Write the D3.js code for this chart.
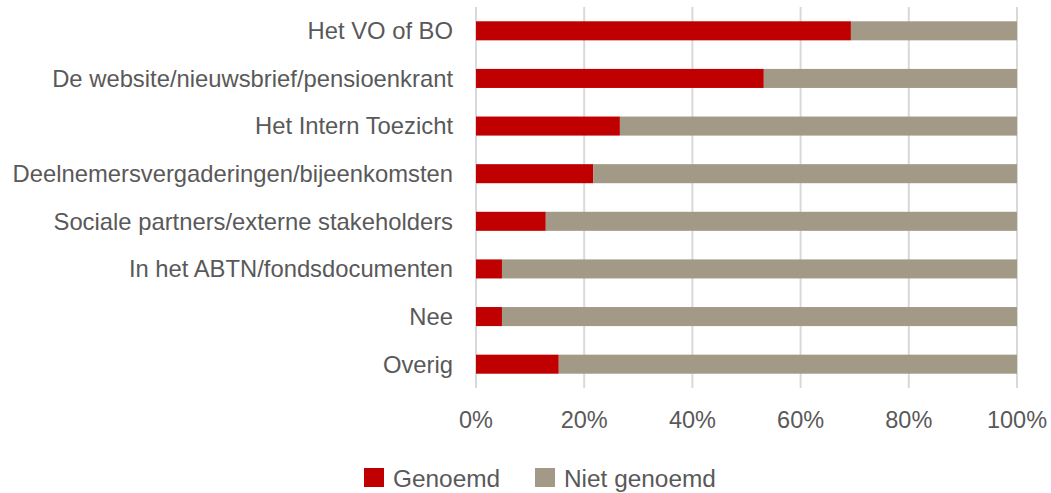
<!DOCTYPE html>
<html>
<head>
<meta charset="utf-8">
<script src="https://cdn.jsdelivr.net/npm/d3@7.9.0/dist/d3.min.js"></script>
<style>
  body { margin: 0; background: #fff; }
  svg { display: block; font-family: "Liberation Sans", Arial, sans-serif; }
</style>
</head>
<body>
<svg id="chart" width="1051" height="493"></svg>
<script>
// --- DATA ---
const categories = [
  "Het VO of BO",
  "De website/nieuwsbrief/pensioenkrant",
  "Het Intern Toezicht",
  "Deelnemersvergaderingen/bijeenkomsten",
  "Sociale partners/externe stakeholders",
  "In het ABTN/fondsdocumenten",
  "Nee",
  "Overig"
];
const genoemd = [69.3, 53.2, 26.6, 21.7, 12.9, 4.8, 4.8, 15.3];
const nietGenoemd = genoemd.map(v => 100 - v);
const seriesNames = ["Genoemd", "Niet genoemd"];
const seriesColors = ["#c00000", "#a29a86"];
const xTicks = [0, 20, 40, 60, 80, 100];

const svg = d3.select("#chart");
const margin = { left: 476, right: 34, top: 7, bottom: 105 };
const width = 1051 - margin.left - margin.right;
const height = 493 - margin.top - margin.bottom;

const g = svg.append("g").attr("transform", `translate(${margin.left},${margin.top})`);

const x = d3.scaleLinear().domain([0, 100]).range([0, width]);
const y = d3.scaleBand().domain(categories).range([0, height]).paddingInner(0.6).paddingOuter(0.3);

// gridlines
g.selectAll(".grid")
  .data(xTicks)
  .join("line")
  .attr("x1", d => x(d)).attr("x2", d => x(d))
  .attr("y1", 0).attr("y2", height)
  .attr("stroke", "#d9d9d9")
  .attr("stroke-width", 2);

// stacked bars
const rows = categories.map((c, i) => ({ cat: c, vals: [genoemd[i], nietGenoemd[i]] }));
rows.forEach(r => {
  let start = 0;
  r.vals.forEach((v, j) => {
    g.append("rect")
      .attr("x", x(start))
      .attr("y", y(r.cat))
      .attr("width", x(start + v) - x(start))
      .attr("height", y.bandwidth())
      .attr("fill", seriesColors[j]);
    start += v;
  });
});

// category labels
g.selectAll(".cat")
  .data(categories)
  .join("text")
  .attr("x", -23)
  .attr("y", d => y(d) + y.bandwidth() / 2)
  .attr("dy", "0.35em")
  .attr("text-anchor", "end")
  .attr("fill", "#595959")
  .attr("font-size", 23.8)
  .text(d => d);

// x tick labels
g.selectAll(".tick")
  .data(xTicks)
  .join("text")
  .attr("x", d => x(d))
  .attr("y", height + 39.5)
  .attr("text-anchor", "middle")
  .attr("fill", "#595959")
  .attr("font-size", 23.5)
  .text(d => d + "%");

// legend
const legendX = [364, 535];
const legend = svg.append("g");
seriesNames.forEach((name, i) => {
  legend.append("rect")
    .attr("x", legendX[i]).attr("y", 468)
    .attr("width", 20).attr("height", 19)
    .attr("fill", seriesColors[i]);
  legend.append("text")
    .attr("x", legendX[i] + 29).attr("y", 486.5)
    .attr("fill", "#595959")
    .attr("font-size", 24.4)
    .text(name);
});
</script>
</body>
</html>
